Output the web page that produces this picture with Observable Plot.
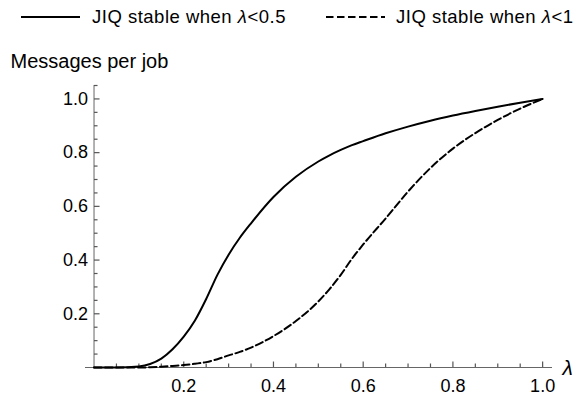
<!DOCTYPE html>
<html><head><meta charset="utf-8">
<script src="https://cdn.jsdelivr.net/npm/d3@7"></script>
<script src="https://cdn.jsdelivr.net/npm/@observablehq/plot@0.6"></script>
<style>
body{margin:0;background:#fff;font-family:"Liberation Sans",Arial,sans-serif;}
#legend{position:relative;height:36px;font-size:18.5px;letter-spacing:0.5px;color:#000;}
#legend .sw{position:absolute;top:15px;}
#legend .lab{position:absolute;top:6px;line-height:22px;white-space:nowrap;}
#chart svg{display:block;}
</style></head><body>
<div id="legend"></div>
<div id="chart"></div>
<script>
// data
const lambda      = [0, 0.05, 0.1, 0.125, 0.15, 0.175, 0.2, 0.225, 0.25, 0.275, 0.3, 0.325, 0.35, 0.4, 0.45, 0.5, 0.525, 0.55, 0.575, 0.6, 0.65, 0.7, 0.75, 0.8, 0.85, 0.9, 0.95, 1.0];
const stableHalf  = [0, 0.0, 0.004, 0.013, 0.033, 0.068, 0.115, 0.175, 0.255, 0.345, 0.42, 0.483, 0.537, 0.635, 0.71, 0.767, 0.79, 0.81, 0.828, 0.843, 0.872, 0.897, 0.919, 0.938, 0.955, 0.971, 0.986, 1.0];
const stableOne   = [0, 0.0, 0.0, 0.001, 0.003, 0.006, 0.009, 0.014, 0.02, 0.031, 0.045, 0.058, 0.074, 0.117, 0.173, 0.246, 0.292, 0.345, 0.405, 0.458, 0.555, 0.655, 0.743, 0.815, 0.873, 0.922, 0.964, 1.0];
const seriesNames = ["JIQ stable when λ<0.5", "JIQ stable when λ<1"];
const majorTicks  = [0.2, 0.4, 0.6, 0.8, 1.0];
const xMinorTicks = [0.05, 0.1, 0.15, 0.25, 0.3, 0.35, 0.45, 0.5, 0.55, 0.65, 0.7, 0.75, 0.85, 0.9, 0.95];
const yMinorTicks = [0.05, 0.1, 0.15, 0.25, 0.3, 0.35, 0.45, 0.5, 0.55, 0.65, 0.7, 0.75, 0.85, 0.9, 0.95, 1.05];
const tickLabels  = ["0.2", "0.4", "0.6", "0.8", "1.0"];
const yTitle = "Messages per job";
const xTitle = "λ";
const xDomain = [-0.019, 1.022];
const yDomain = [0, 1.05];

const axisColor = "#666";
const tickColor = "#555";
const dashes = ["none", "7.5,3.5"];

// legend
const legend = document.getElementById("legend");
const swLeft = [21, 326], labLeft = [92, 396];
seriesNames.forEach((name, i) => {
  const sw = document.createElementNS("http://www.w3.org/2000/svg", "svg");
  sw.setAttribute("width", 59); sw.setAttribute("height", 4);
  sw.setAttribute("class", "sw");
  sw.style.left = swLeft[i] + "px";
  sw.innerHTML = `<line x1="0" x2="59" y1="2" y2="2" stroke="#000" stroke-width="2" stroke-dasharray="${dashes[i]}"/>`;
  legend.appendChild(sw);
  const lab = document.createElement("span");
  lab.className = "lab";
  lab.style.left = labLeft[i] + "px";
  lab.innerHTML = name.replace("λ", "<i>λ</i>").replace("<0", "&lt;0").replace("<1", "&lt;1");
  legend.appendChild(lab);
});

const W = 579, H = 363, mL = 85, mR = 27, mT = 49, mB = 32;
const pxPerY = (H - mT - mB) / (yDomain[1] - yDomain[0]);
const pxPerX = (W - mL - mR) / (xDomain[1] - xDomain[0]);
const majorLen = 5.5, minorLen = 3.5;

const chart = Plot.plot({
  width: W, height: H,
  marginLeft: mL, marginRight: mR, marginTop: mT, marginBottom: mB,
  x: {domain: xDomain, axis: null},
  y: {domain: yDomain, axis: null},
  style: {fontFamily: "'Liberation Sans', Arial, sans-serif", fontSize: "18px", background: "#fff", color: "#000"},
  marks: [
    Plot.ruleY([0], {stroke: axisColor, strokeWidth: 1}),
    Plot.ruleX([0], {stroke: axisColor, strokeWidth: 1}),
    Plot.ruleX(majorTicks, {x: d => d, y1: 0, y2: majorLen / pxPerY, stroke: tickColor, strokeWidth: 1.2}),
    Plot.ruleX(xMinorTicks, {x: d => d, y1: 0, y2: minorLen / pxPerY, stroke: tickColor, strokeWidth: 1.2}),
    Plot.link(majorTicks, {y1: d => d, y2: d => d, x1: 0, x2: majorLen / pxPerX, stroke: tickColor, strokeWidth: 1.2}),
    Plot.link(yMinorTicks, {y1: d => d, y2: d => d, x1: 0, x2: minorLen / pxPerX, stroke: tickColor, strokeWidth: 1.2}),
    Plot.text(majorTicks, {x: d => d, y: 0, text: (d, i) => tickLabels[i], dy: 18.5, lineAnchor: "middle", fill: "#000"}),
    Plot.text(majorTicks, {x: 0, y: d => d, text: (d, i) => tickLabels[i], dx: -6, textAnchor: "end", lineAnchor: "middle", fill: "#000"}),
    Plot.text([yTitle], {frameAnchor: "top-left", dx: -75, dy: -18, lineAnchor: "bottom", textAnchor: "start", fill: "#000", fontSize: 20, letterSpacing: "1.2px"}),
    Plot.text([xTitle], {frameAnchor: "bottom-right", dx: 10, dy: 1, lineAnchor: "middle", textAnchor: "start", fill: "#000", fontStyle: "italic", fontSize: 21}),
    Plot.line(lambda, {x: d => d, y: (d, i) => stableOne[i], curve: "monotone-x", stroke: "#000", strokeWidth: 2, strokeDasharray: dashes[1]}),
    Plot.line(lambda, {x: d => d, y: (d, i) => stableHalf[i], curve: "monotone-x", stroke: "#000", strokeWidth: 2})
  ]
});
document.getElementById("chart").appendChild(chart);
</script>
</body></html>
